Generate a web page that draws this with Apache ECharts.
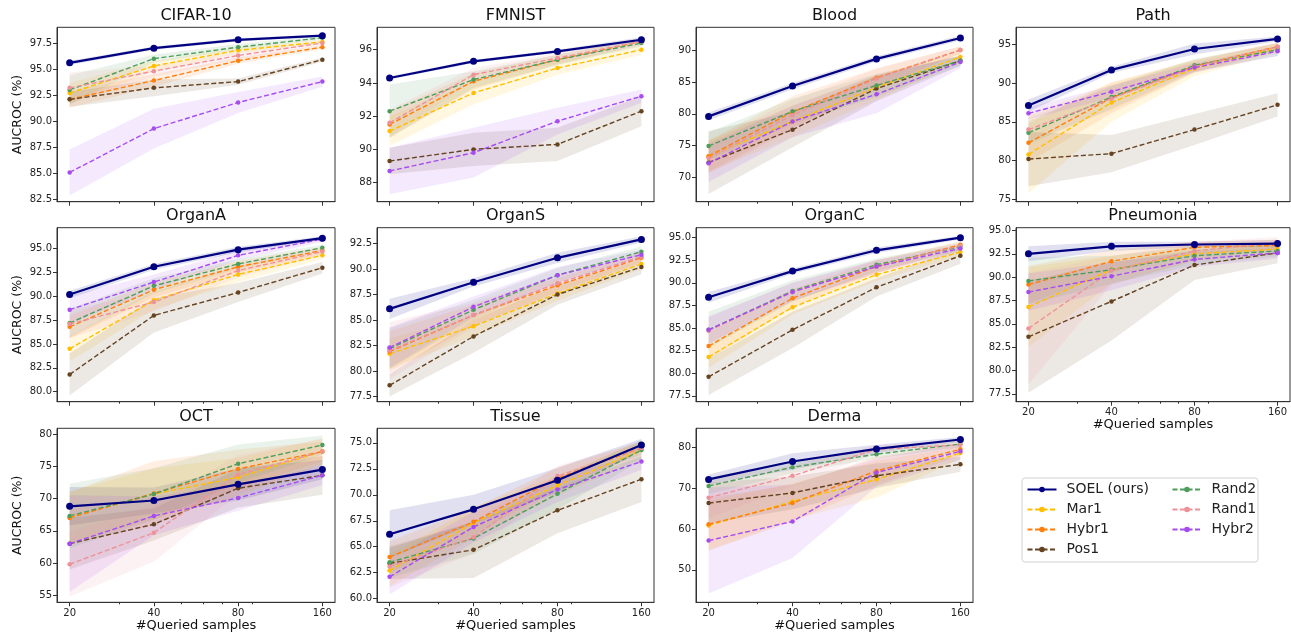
<!DOCTYPE html>
<html><head><meta charset="utf-8">
<script src="https://cdn.jsdelivr.net/npm/echarts@6/dist/echarts.min.js"></script>
<style>html,body{margin:0;padding:0;background:#fff}#c{width:1291px;height:636px}</style>
</head><body><div id="c"></div>
<script>
// ---------------- DATA ----------------
const panels = ['CIFAR-10','FMNIST','Blood','Path','OrganA','OrganS','OrganC','Pneumonia','OCT','Tissue','Derma'];
const queried = [20, 40, 80, 160];
const minorQueried = [30, 50, 60, 70, 90];
const methods = ['SOEL (ours)','Mar1','Hybr1','Pos1','Rand2','Rand1','Hybr2'];

// mean AUCROC per panel (rows follow `panels`), columns follow `queried`
const SOEL_mean = [[95.6,97.0,97.8,98.2],[94.3,95.3,95.9,96.6],[79.6,84.4,88.7,92.0],[87.1,91.7,94.4,95.7],[90.2,93.1,94.9,96.1],[86.1,88.7,91.1,92.9],[88.4,91.3,93.6,95.0],[92.5,93.3,93.5,93.6],[68.8,69.7,72.2,74.5],[66.2,68.6,71.4,74.8],[72.2,76.6,79.7,82.0]];
const Mar1_mean  = [[92.7,95.3,96.8,97.6],[91.1,93.4,94.9,96.0],[73.3,78.8,84.2,89.0],[80.8,87.5,91.9,94.5],[84.5,89.6,92.3,94.3],[81.7,84.4,87.6,90.5],[81.8,87.3,90.9,93.4],[86.8,90.8,92.5,93.0],[67.1,70.7,73.3,77.3],[62.7,67.3,70.9,74.3],[60.9,66.8,72.2,78.7]];
const Hybr1_mean = [[92.1,93.9,95.8,97.1],[91.5,94.1,95.4,96.5],[73.3,80.3,85.7,90.1],[82.3,88.1,92.2,94.7],[86.8,90.7,93.1,94.8],[81.9,85.5,88.4,91.1],[83.0,88.3,91.8,94.2],[89.2,91.7,93.2,93.4],[67.0,70.8,74.6,77.3],[64.0,67.4,71.6,74.5],[61.2,66.4,74.3,79.6]];
const Pos1_mean  = [[92.1,93.2,93.8,95.9],[89.3,90.0,90.3,92.3],[72.3,77.5,84.0,88.4],[80.2,80.9,84.0,87.2],[81.8,88.0,90.4,93.0],[78.6,83.4,87.5,90.2],[79.6,84.8,89.5,93.0],[83.6,87.4,91.3,92.6],[63.0,66.0,71.6,73.6],[63.4,64.7,68.5,71.5],[66.4,68.9,73.1,75.9]];
const Rand2_mean = [[93.0,96.0,97.1,98.0],[92.3,94.2,95.4,96.4],[74.9,80.4,84.5,88.4],[83.6,88.2,92.3,94.3],[87.2,91.1,93.4,95.1],[82.2,86.0,89.4,91.7],[84.8,89.1,92.0,94.0],[89.6,90.8,92.3,92.8],[67.3,70.7,75.4,78.3],[63.5,65.8,70.1,74.3],[70.6,75.2,78.4,80.9]];
const Rand1_mean = [[93.2,94.8,96.3,97.5],[91.6,94.5,95.5,96.5],[73.0,79.8,85.6,90.1],[84.0,88.0,92.1,94.7],[87.1,89.4,92.7,94.7],[82.0,85.5,88.6,91.2],[84.7,89.0,91.8,94.1],[84.5,90.7,92.8,93.7],[59.8,64.7,73.7,77.3],[63.1,65.9,71.8,74.5],[67.7,73.1,79.6,80.7]];
const Hybr2_mean = [[85.1,89.3,91.8,93.8],[88.7,89.8,91.7,93.2],[72.2,78.8,83.1,88.2],[86.1,88.9,92.0,94.1],[88.6,91.5,94.3,96.0],[82.3,86.3,89.4,91.4],[84.8,89.0,91.8,93.8],[88.4,90.1,91.9,92.6],[63.0,67.3,70.1,73.6],[62.1,66.9,70.5,73.2],[57.2,61.9,73.9,79.1]];

// standard deviation (half-width of shaded band)
const SOEL_sd  = [[0.2,0.15,0.15,0.1],[0.1,0.1,0.1,0.15],[0.6,0.5,0.4,0.4],[0.8,0.4,0.7,0.3],[0.4,0.3,0.3,0.2],[1.0,0.4,0.5,0.3],[0.6,0.3,0.3,0.2],[0.8,0.5,0.3,0.4],[3.0,2.0,2.5,1.5],[2.3,1.4,1.2,0.6],[1.2,2.0,1.0,0.6]];
const Mar1_sd  = [[1.0,0.5,0.3,0.2],[0.9,0.7,0.4,0.3],[2.5,2.5,2.0,0.8],[5.0,2.5,1.0,0.6],[1.3,1.0,0.8,0.4],[1.5,1.0,0.7,0.5],[1.2,0.8,0.7,0.4],[4.3,1.5,0.8,0.6],[4.0,4.0,3.0,2.0],[1.5,1.5,1.0,0.8],[6.0,4.5,4.5,1.5]];
const Hybr1_sd = [[0.8,0.6,0.3,0.2],[0.8,0.5,0.3,0.2],[2.5,2.5,1.5,0.6],[2.5,2.0,0.8,0.5],[1.2,0.8,0.6,0.4],[2.0,1.0,0.7,0.5],[1.5,1.0,0.7,0.4],[2.0,1.2,0.6,0.6],[4.0,5.0,3.0,1.5],[1.5,1.3,1.0,0.6],[6.5,4.5,3.5,1.5]];
const Pos1_sd  = [[0.7,0.8,0.3,0.2],[0.8,1.0,1.0,0.9],[5.0,2.8,2.0,0.8],[3.5,2.4,2.0,1.5],[2.2,1.8,1.0,0.6],[1.1,1.6,1.0,0.7],[2.0,2.0,1.0,0.9],[6.0,4.2,1.6,1.1],[4.0,2.5,3.0,3.0],[1.5,2.7,2.2,2.2],[5.0,4.0,3.0,1.8]];
const Rand2_sd = [[1.4,0.4,0.3,0.2],[1.6,0.5,0.3,0.2],[2.2,2.0,1.8,0.8],[1.5,1.5,0.8,0.8],[1.5,0.8,0.5,0.3],[2.0,1.0,0.7,0.5],[2.0,1.2,0.7,0.4],[2.5,1.5,1.0,0.6],[5.0,4.0,3.0,1.5],[1.5,1.5,1.5,1.0],[2.0,1.5,1.0,0.8]];
const Rand1_sd = [[1.5,0.5,0.4,0.2],[0.8,0.4,0.3,0.2],[2.5,2.3,1.5,0.6],[1.5,1.5,0.8,0.6],[1.5,1.0,0.7,0.4],[2.8,1.2,0.8,0.5],[1.5,1.0,0.7,0.4],[6.0,1.5,1.0,0.6],[5.0,4.5,3.0,2.0],[2.0,1.5,1.0,0.6],[5.0,2.5,1.0,0.8]];
const Hybr2_sd = [[2.2,1.9,1.0,0.5],[1.4,1.5,0.8,0.4],[3.0,2.5,3.0,1.0],[0.8,0.8,0.6,0.6],[1.5,0.8,0.5,0.3],[2.0,1.0,0.8,0.5],[1.5,1.0,0.7,0.4],[2.0,1.5,0.8,0.6],[7.5,3.0,2.0,1.5],[1.7,1.5,1.2,0.8],[13.0,9.0,3.5,2.0]];

// y tick labels per panel
const yTicks = [
  [82.5,85.0,87.5,90.0,92.5,95.0,97.5],
  [88,90,92,94,96],
  [70,75,80,85,90],
  [75,80,85,90,95],
  [80.0,82.5,85.0,87.5,90.0,92.5,95.0],
  [77.5,80.0,82.5,85.0,87.5,90.0,92.5],
  [77.5,80.0,82.5,85.0,87.5,90.0,92.5,95.0],
  [77.5,80.0,82.5,85.0,87.5,90.0,92.5,95.0],
  [55,60,65,70,75,80],
  [60.0,62.5,65.0,67.5,70.0,72.5,75.0],
  [50,60,70,80]
];
const yDecimals = [1,0,0,0,1,1,1,1,0,1,0];
const yRange = [[82.3,99.0],[86.85,97.35],[66.1,93.7],[74.7,97.2],[78.95,97.2],[77.0,94.05],[76.85,96.1],[76.65,95.3],[53.9,80.9],[59.65,76.4],[42.05,84.75]];

// ---------------- STYLE / LAYOUT ----------------
const MEANS = [SOEL_mean, Mar1_mean, Hybr1_mean, Pos1_mean, Rand2_mean, Rand1_mean, Hybr2_mean];
const SDS = [SOEL_sd, Mar1_sd, Hybr1_sd, Pos1_sd, Rand2_sd, Rand1_sd, Hybr2_sd];
const COLORS = ['#000080','#ffbf00','#ff7f0e','#654321','#4f9d5d','#ee929a','#a64cf0'];
const FONT = 'DejaVu Sans';
const colLeft = [57, 377, 696, 1016];
const colWidth = [278, 277, 277, 274];
const rowTop = [27.3, 227.7, 428.3];
const rowHeight = [174.4, 174, 174];
const xLabelPanels = [7, 8, 9, 10];
const yNamePanels = [0, 4, 8];

const lg = Math.log2;
const XMIN = lg(queried[0]) - 0.15;
const XMAX = lg(queried[queried.length - 1]) + 0.15;
const NQ = queried.length;
const bandDims = [];
for (let j = 0; j < NQ; j++) bandDims.push('x' + j, 'lo' + j, 'hi' + j);

function bandRender(color) {
  return function (params, api) {
    const up = [], lo = [];
    for (let j = 0; j < NQ; j++) {
      const x = api.value(3 * j);
      lo.push(api.coord([x, api.value(3 * j + 1)]));
      up.push(api.coord([x, api.value(3 * j + 2)]));
    }
    return {type: 'polygon', shape: {points: up.concat(lo.reverse())},
      style: {fill: color, opacity: 0.12}, silent: true};
  };
}

const grids = [], xAxes = [], yAxes = [], series = [], titles = [];
panels.forEach((p, i) => {
  const r = Math.floor(i / 4), c = i % 4;
  const left = colLeft[c], top = rowTop[r], w = colWidth[c], h = rowHeight[r];
  grids.push({left, top, width: w, height: h, show: true, borderColor: '#333', borderWidth: 1, containLabel: false});
  titles.push({text: p, left: left + w / 2, top: top - 19.5, textAlign: 'center', padding: 0,
    textStyle: {fontSize: 16, fontWeight: 'normal', color: '#111', fontFamily: FONT}});
  const showX = xLabelPanels.includes(i);
  xAxes.push({
    gridIndex: i, type: 'value', min: XMIN, max: XMAX, position: 'bottom',
    axisLine: {show: true, onZero: false, lineStyle: {color: '#333', width: 1}},
    axisTick: {show: true, customValues: queried.map(lg), length: 4, lineStyle: {color: '#333'}},
    axisLabel: {show: showX, customValues: queried.map(lg), formatter: v => String(Math.round(Math.pow(2, v))),
      fontSize: 10, color: '#222', fontFamily: FONT, margin: 6},
    splitLine: {show: false},
    name: showX ? '#Queried samples' : '', nameLocation: 'middle', nameGap: 16,
    nameTextStyle: {fontSize: 13, color: '#111', fontFamily: FONT, verticalAlign: 'top'}
  });
  xAxes.push({
    gridIndex: i, type: 'value', min: XMIN, max: XMAX, position: 'bottom',
    axisLine: {show: false, onZero: false},
    axisTick: {show: true, customValues: minorQueried.map(lg), length: 2, lineStyle: {color: '#333'}},
    axisLabel: {show: false}, splitLine: {show: false}
  });
  const dec = yDecimals[i];
  yAxes.push({
    gridIndex: i, type: 'value', min: yRange[i][0], max: yRange[i][1],
    axisLine: {show: true, lineStyle: {color: '#333', width: 1}},
    axisTick: {show: true, customValues: yTicks[i], length: 4, lineStyle: {color: '#333'}},
    axisLabel: {customValues: yTicks[i], formatter: v => Number(v).toFixed(dec), fontSize: 10, color: '#222', fontFamily: FONT, margin: 5},
    splitLine: {show: false},
    name: yNamePanels.includes(i) ? 'AUCROC (%)' : '', nameLocation: 'middle', nameGap: 33,
    nameTextStyle: {fontSize: 12.5, color: '#111', fontFamily: FONT}
  });
  methods.forEach((m, k) => {
    const mean = MEANS[k][i], sd = SDS[k][i];
    const row = [];
    queried.forEach((q, j) => row.push(lg(q), mean[j] - sd[j], mean[j] + sd[j]));
    series.push({type: 'custom', name: '_band' + k, xAxisIndex: 2 * i, yAxisIndex: i, silent: true,
      dimensions: bandDims, encode: {x: 0, y: 1}, data: [row], renderItem: bandRender(COLORS[k]), z: 1});
  });
  methods.forEach((m, k) => {
    const mean = MEANS[k][i];
    const main = k === 0;
    series.push({type: 'line', name: m, xAxisIndex: 2 * i, yAxisIndex: i,
      data: queried.map((q, j) => [lg(q), mean[j]]),
      symbol: 'circle', symbolSize: main ? 7 : 4.5, showSymbol: true,
      lineStyle: {color: COLORS[k], width: main ? 2.2 : 1.4, type: main ? 'solid' : [5, 2.5]},
      itemStyle: {color: COLORS[k]}, z: main ? 6 : 3});
  });
});

const legendCommon = {orient: 'vertical', top: 482.5, itemWidth: 29, itemHeight: 7, itemGap: 6, padding: 0,
  textStyle: {fontSize: 14, color: '#222', fontFamily: FONT, padding: [0, 0, 0, 5]}};

const option = {
  animation: false,
  backgroundColor: '#fff',
  title: titles,
  grid: grids,
  xAxis: xAxes,
  yAxis: yAxes,
  legend: [
    Object.assign({left: 1026.5, data: methods.slice(0, 4)}, legendCommon),
    Object.assign({left: 1171.5, data: methods.slice(4)}, legendCommon)
  ],
  graphic: [{type: 'rect', shape: {x: 1022, y: 478, width: 236, height: 84, r: 3},
    style: {fill: '#fff', stroke: '#d0d0d0', lineWidth: 1}, z: -1}],
  series
};
const chart = echarts.init(document.getElementById('c'), null, {renderer: 'canvas'});
chart.setOption(option);
</script></body></html>
